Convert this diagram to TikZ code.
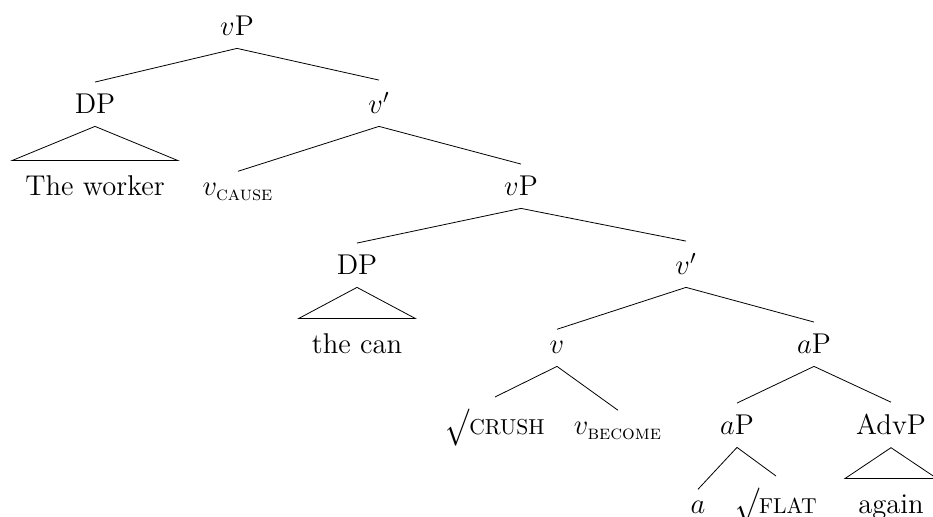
\RequirePackage{fix-cm}
\documentclass[tikz,border=0pt]{standalone}
\usepackage{amsmath}
\usepackage{graphicx}
\newcommand{\rt}{\raisebox{-0.08em}{\scalebox{1}[1.3]{$\surd$}}}
\newcommand{\smc}[1]{{\fontsize{10.8}{12}\selectfont #1}}
\tikzset{lbl/.style={anchor=base,inner xsep=2pt,inner ysep=6pt},
	roof/.style={anchor=base,inner xsep=6.5pt,inner ysep=7.5pt,text height=10pt}}
\begin{document}
\begin{tikzpicture}[x=0.5pt,y=-0.5pt,font=\fontsize{14.3}{17}\selectfont]
	\useasboundingbox (0,0) rectangle (933,517);
	\node[lbl] (vP) at (237,36) {$v$P};
	\node[lbl] (DP) at (95,114) {DP};
	\node[roof] (worker) at (95,196) {The worker};
	\node[lbl] (vbar) at (379,114) {$v'$};
	\node[lbl] (vcause) at (238,196) {$v_{\textsc{cause}}$};
	\node[lbl] (vP2) at (521,196) {$v$P};
	\node[lbl] (DP2) at (357,275) {DP};
	\node[roof] (can) at (357,354) {the can};
	\node[lbl] (vbar2) at (686,275) {$v'$};
	\node[lbl] (v) at (557,354) {$v$};
	\node[lbl] (aP) at (814,354) {$a$P};
	\node[lbl] (crush) at (495,435) {\rt\smc{CRUSH}};
	\node[lbl] (vbecome) at (618,435) {$v_{\textsc{become}}$};
	\node[lbl] (aP2) at (737,435) {$a$P};
	\node[lbl] (AdvP) at (891,435) {AdvP};
	\node[lbl] (a) at (698,514) {$a$};
	\node[lbl] (flat) at (776,514) {\rt\smc{FLAT}};
	\node[roof] (again) at (891,514) {again};
	\draw (vP.south) to (DP.north);
	\draw (vP.south) to (vbar.north);
	\draw (DP.south) to (worker.north west) to (worker.north east) to cycle;
	\draw (vbar.south) to (vcause.north);
	\draw (vbar.south) to (vP2.north);
	\draw (vP2.south) to (DP2.north);
	\draw (vP2.south) to (vbar2.north);
	\draw (DP2.south) to (can.north west) to (can.north east) to cycle;
	\draw (vbar2.south) to (v.north);
	\draw (vbar2.south) to (aP.north);
	\draw (v.south) to (crush.north);
	\draw (v.south) to (vbecome.north);
	\draw (aP.south) to (aP2.north);
	\draw (aP.south) to (AdvP.north);
	\draw (aP2.south) to (a.north);
	\draw (aP2.south) to (flat.north);
	\draw (AdvP.south) to (again.north west) to (again.north east) to cycle;
\end{tikzpicture}
\end{document}
